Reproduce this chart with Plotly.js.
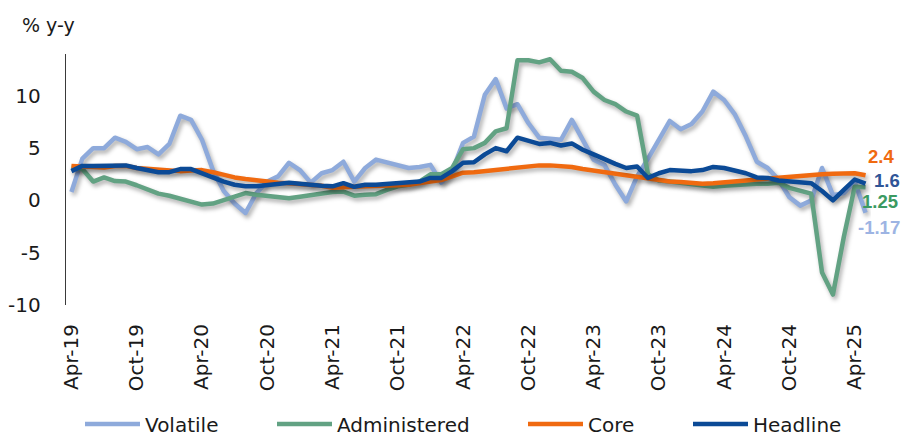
<!DOCTYPE html>
<html>
<head>
<meta charset="utf-8">
<script src="https://cdn.plot.ly/plotly-3.0.1.min.js"></script>
<style>
  html, body { margin: 0; padding: 0; background: #ffffff; }
  #chart { width: 905px; height: 436px; }
  /* soft drop shadow under the series lines */
  #chart .scatterlayer .js-line {
    filter: drop-shadow(2px 3px 2px rgba(0, 0, 0, 0.32));
    stroke-linejoin: round;
  }
</style>
</head>
<body>
<div id="chart"></div>
<script>
// Monthly categories, Apr-19 .. May-25
const months = [
  'Apr-19','May-19','Jun-19','Jul-19','Aug-19','Sep-19','Oct-19','Nov-19','Dec-19','Jan-20','Feb-20','Mar-20',
  'Apr-20','May-20','Jun-20','Jul-20','Aug-20','Sep-20','Oct-20','Nov-20','Dec-20','Jan-21','Feb-21','Mar-21',
  'Apr-21','May-21','Jun-21','Jul-21','Aug-21','Sep-21','Oct-21','Nov-21','Dec-21','Jan-22','Feb-22','Mar-22',
  'Apr-22','May-22','Jun-22','Jul-22','Aug-22','Sep-22','Oct-22','Nov-22','Dec-22','Jan-23','Feb-23','Mar-23',
  'Apr-23','May-23','Jun-23','Jul-23','Aug-23','Sep-23','Oct-23','Nov-23','Dec-23','Jan-24','Feb-24','Mar-24',
  'Apr-24','May-24','Jun-24','Jul-24','Aug-24','Sep-24','Oct-24','Nov-24','Dec-24','Jan-25','Feb-25','Mar-25',
  'Apr-25','May-25'
];

// Labelled months on the x axis
const tickLabels = ['Apr-19','Oct-19','Apr-20','Oct-20','Apr-21','Oct-21','Apr-22',
                    'Oct-22','Apr-23','Oct-23','Apr-24','Oct-24','Apr-25'];

// y axis ticks
const yTickVals = [-10, -5, 0, 5, 10];
const yTickText = ['-10', '-5', '0', '5', '10'];

// % y-y
const volatile = [
  0.8, 4.0, 5.0, 5.0, 6.0, 5.6, 4.9, 5.1, 4.4, 5.4, 8.1, 7.7,
  5.8, 2.9, 0.9, -0.3, -1.2, 0.7, 1.8, 2.3, 3.6, 2.9, 1.7, 2.6,
  2.9, 3.7, 1.8, 3.1, 3.9, 3.6, 3.3, 3.1, 3.2, 3.4, 1.7, 2.8,
  5.5, 6.1, 10.1, 11.6, 8.8, 9.2, 7.4, 6.0, 5.9, 5.8, 7.7, 5.8,
  3.9, 3.4, 1.5, -0.1, 2.3, 4.0, 5.8, 7.6, 6.8, 7.3, 8.5, 10.4,
  9.6, 8.2, 6.1, 3.7, 3.1, 2.0, 0.3, -0.5, 0.0, 3.1, 0.5, 0.7,
  1.8, -1.17
];

const administered = [
  3.2, 3.0, 1.8, 2.2, 1.85, 1.8, 1.45, 1.05, 0.65, 0.45, 0.2, -0.1,
  -0.4, -0.3, 0.05, 0.4, 0.7, 0.55, 0.4, 0.35, 0.2, 0.35, 0.5, 0.7,
  0.8, 0.85, 0.45, 0.55, 0.6, 1.0, 1.35, 1.5, 1.8, 2.5, 2.5, 3.1,
  4.9, 5.0, 5.5, 6.6, 6.9, 13.4, 13.4, 13.2, 13.5, 12.4, 12.3, 11.7,
  10.4, 9.6, 9.2, 8.5, 8.1, 2.5, 1.9, 1.8, 1.7, 1.6, 1.4, 1.3,
  1.4, 1.5, 1.5, 1.6, 1.6, 1.7, 1.2, 0.9, 0.65, -6.9, -9.0, -3.5,
  1.3, 1.25
];

const core = [
  3.3, 3.25, 3.1, 3.15, 3.3, 3.3, 3.1, 3.0, 2.9, 2.8, 2.8, 2.85,
  2.9, 2.7, 2.4, 2.2, 2.05, 1.9, 1.8, 1.7, 1.65, 1.6, 1.5, 1.4,
  1.2, 1.2, 1.3, 1.35, 1.35, 1.35, 1.45, 1.5, 1.6, 1.8, 1.95, 2.3,
  2.65, 2.7, 2.8, 2.9, 3.1, 3.2, 3.3, 3.35, 3.35, 3.3, 3.2, 3.0,
  2.85, 2.7, 2.55, 2.4, 2.2, 2.0, 1.9, 1.8, 1.75, 1.65, 1.6, 1.65,
  1.7, 1.8, 1.9, 2.0, 2.1, 2.2, 2.3, 2.35, 2.4, 2.5, 2.55, 2.6,
  2.6, 2.4
];

const headline = [
  2.8, 3.3, 3.3, 3.3, 3.4, 3.35, 3.1, 2.9, 2.7, 2.7, 3.0, 3.0,
  2.6, 2.1, 1.8, 1.5, 1.35, 1.35, 1.5, 1.6, 1.7, 1.6, 1.45, 1.4,
  1.35, 1.65, 1.3, 1.5, 1.5, 1.55, 1.65, 1.7, 1.8, 2.15, 2.15, 2.8,
  3.6, 3.65, 4.4, 5.0, 4.7, 6.0, 5.75, 5.4, 5.5, 5.25, 5.45, 4.85,
  4.4, 3.9, 3.5, 3.1, 3.25, 2.15, 2.6, 2.9, 2.8, 2.8, 2.9, 3.2,
  3.1, 2.9, 2.6, 2.2, 2.15, 1.9, 1.8, 1.7, 1.65, 0.9, 0.0, 1.0,
  2.0, 1.6
];

const seriesNames  = ['Volatile', 'Administered', 'Core', 'Headline'];
const seriesValues = [volatile, administered, core, headline];
const lineColors   = ['#8eaadb', '#62a283', '#f06a10', '#0b4a96'];
const labelColors  = ['#9db4e3', '#3b9a62', '#f06a10', '#2f5597'];
const legendIds    = ['legend', 'legend2', 'legend3', 'legend4'];
const legendLeftPx = [80, 272, 523, 688];
// end-of-line value labels: offsets in px from the last point
const endShift     = [[-9, -15], [-5, -14], [1, 19], [7, 3]];

const W = 905, H = 436;
const M = { l: 66, r: 34, t: 54, b: 131 };
const yRange = [-10, 14];
const FONT = 'DejaVu Sans, Verdana, sans-serif';
const BOLD_FONT = 'Liberation Sans, Arial, sans-serif';
const TXT = '#1a1a1a';

const traces = seriesNames.map((name, k) => ({
  type: 'scatter',
  mode: 'lines',
  name: name,
  x: months,
  y: seriesValues[k],
  xaxis: 'x',
  yaxis: 'y',
  legend: legendIds[k],
  line: { color: lineColors[k], width: 4.5 },
  hoverinfo: 'x+y+name'
}));

const last = months.length - 1;
const annotations = seriesNames.map((name, k) => ({
  x: months[last],
  y: seriesValues[k][last],
  xref: 'x', yref: 'y',
  text: '<b>' + String(seriesValues[k][last]) + '</b>',
  showarrow: false,
  xanchor: 'left', yanchor: 'middle',
  borderpad: 0,
  xshift: endShift[k][0], yshift: endShift[k][1],
  font: { family: BOLD_FONT, size: 18.5, color: labelColors[k] }
}));

// boundaries between categories, every six months (tick marks on the zero line)
const boundaryTicks = tickLabels.map(t => months.indexOf(t) - 0.5);

const layout = {
  width: W, height: H,
  margin: M,
  paper_bgcolor: '#ffffff',
  plot_bgcolor: 'rgba(0,0,0,0)',
  font: { family: FONT, size: 20, color: TXT },
  title: {
    text: '% y-y',
    x: 22 / W, xanchor: 'left', xref: 'container',
    y: 1 - 25 / H, yanchor: 'middle', yref: 'container',
    font: { family: FONT, size: 19, color: TXT }
  },
  xaxis: {
    type: 'category',
    categoryorder: 'array',
    categoryarray: months,
    range: [-0.5, months.length - 0.5],
    tickmode: 'array',
    tickvals: tickLabels,
    ticktext: tickLabels,
    tickangle: -90,
    ticks: '',
    ticklabelstandoff: 14,
    showline: false,
    showgrid: false,
    zeroline: false,
    automargin: false,
    tickfont: { family: FONT, size: 20, color: TXT },
    fixedrange: true
  },
  // axis line at y = 0 carrying the tick marks
  xaxis2: {
    overlaying: 'x',
    anchor: 'free',
    position: (0 - yRange[0]) / (yRange[1] - yRange[0]),
    type: 'linear',
    range: [-0.5, months.length - 0.5],
    tickmode: 'array',
    tickvals: boundaryTicks,
    showticklabels: false,
    ticks: 'outside',
    ticklen: 6,
    tickwidth: 1.3,
    tickcolor: '#3a3a3a',
    showline: true,
    linecolor: '#3a3a3a',
    linewidth: 1.3,
    showgrid: false,
    zeroline: false,
    automargin: false,
    fixedrange: true
  },
  yaxis: {
    range: yRange,
    tickmode: 'array',
    tickvals: yTickVals,
    ticktext: yTickText,
    ticks: '',
    ticklabelstandoff: 20,
    showline: true,
    linecolor: '#3a3a3a',
    linewidth: 1.3,
    showgrid: false,
    zeroline: false,
    automargin: false,
    tickfont: { family: FONT, size: 20, color: TXT },
    fixedrange: true
  },
  annotations: annotations,
  showlegend: true
};

legendIds.forEach((id, k) => {
  layout[id] = {
    xref: 'container', yref: 'container',
    x: legendLeftPx[k] / W,
    xanchor: 'left',
    y: 1 - 424 / H,
    yanchor: 'middle',
    orientation: 'h',
    bgcolor: 'rgba(0,0,0,0)',
    borderwidth: 0,
    itemwidth: 55,
    font: { family: FONT, size: 20, color: TXT }
  };
});

Plotly.newPlot('chart', traces, layout, { displayModeBar: false, staticPlot: true });
</script>
</body>
</html>
